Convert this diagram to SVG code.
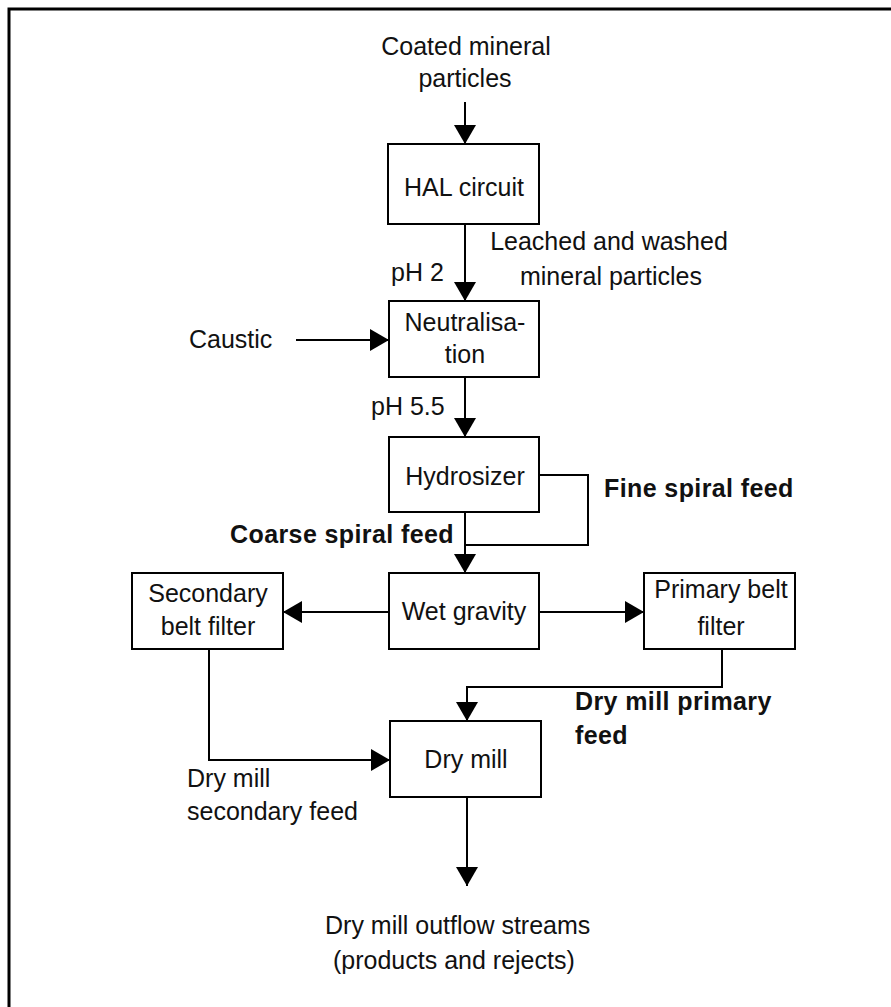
<svg xmlns="http://www.w3.org/2000/svg" width="891" height="1007" viewBox="0 0 891 1007">
  <style>
    .frame { fill: none; stroke: #000; stroke-width: 3; }
    .box { fill: #fff; stroke: #000; stroke-width: 2; }
    .flow { fill: none; stroke: #000; stroke-width: 2; }
    .arrow { marker-end: url(#head); }
    text { font-family: "Liberation Sans", Arial, sans-serif; font-size: 25px; fill: #111; }
    .c { text-anchor: middle; }
    .e { text-anchor: end; }
    .b { font-weight: bold; letter-spacing: 0.4px; }
  </style>
  <defs>
    <marker id="head" viewBox="0 0 19 22" refX="19" refY="11" markerWidth="19" markerHeight="22" markerUnits="userSpaceOnUse" orient="auto">
      <path d="M0,0 L19,11 L0,22 Z" fill="#000"/>
    </marker>
  </defs>

  <rect width="891" height="1007" fill="#fff"/>
  <path class="frame" d="M9,1007 V9 H891"/>

  <!-- stream connectors -->
  <g id="connectors">
    <path class="flow arrow" d="M465,102 V144"/>
    <path class="flow arrow" d="M465,224 V301"/>
    <path class="flow arrow" d="M296,340 H389"/>
    <path class="flow arrow" d="M465,377 V437"/>
    <path class="flow arrow" d="M465,512 V573"/>
    <path class="flow" d="M539,475 H588 V545 H465"/>
    <path class="flow arrow" d="M389,612 H283"/>
    <path class="flow arrow" d="M539,612 H644"/>
    <path class="flow arrow" d="M722,649 V687 H467 V721"/>
    <path class="flow arrow" d="M209,649 V760 H390"/>
    <path class="flow arrow" d="M467,797 V886"/>
  </g>

  <!-- process units -->
  <g id="hal-circuit">
    <rect class="box" x="388" y="144" width="151" height="80"/>
    <text class="c" x="464" y="196">HAL circuit</text>
  </g>
  <g id="neutralisation">
    <rect class="box" x="389" y="301" width="150" height="76"/>
    <text class="c" x="465" y="331">Neutralisa-</text>
    <text class="c" x="465" y="363">tion</text>
  </g>
  <g id="hydrosizer">
    <rect class="box" x="389" y="437" width="150" height="75"/>
    <text class="c" x="465" y="485">Hydrosizer</text>
  </g>
  <g id="wet-gravity">
    <rect class="box" x="389" y="573" width="150" height="76"/>
    <text class="c" x="464" y="620">Wet gravity</text>
  </g>
  <g id="secondary-belt-filter">
    <rect class="box" x="132" y="573" width="151" height="76"/>
    <text class="c" x="208" y="602">Secondary</text>
    <text class="c" x="208" y="635">belt filter</text>
  </g>
  <g id="primary-belt-filter">
    <rect class="box" x="644" y="573" width="151" height="76"/>
    <text class="c" x="721" y="598">Primary belt</text>
    <text class="c" x="721" y="635">filter</text>
  </g>
  <g id="dry-mill">
    <rect class="box" x="390" y="721" width="151" height="76"/>
    <text class="c" x="466" y="768">Dry mill</text>
  </g>

  <!-- stream labels -->
  <g id="labels">
    <text class="c" x="466" y="55">Coated mineral</text>
    <text class="c" x="465" y="87">particles</text>
    <text class="c" x="609" y="250">Leached and washed</text>
    <text class="c" x="611" y="285">mineral particles</text>
    <text x="391" y="281">pH 2</text>
    <text x="189" y="348">Caustic</text>
    <text x="371" y="415">pH 5.5</text>
    <text class="b" x="604" y="497">Fine spiral feed</text>
    <text class="b e" x="454" y="543">Coarse spiral feed</text>
    <text class="b" x="575" y="710">Dry mill primary</text>
    <text class="b" x="575" y="744">feed</text>
    <text x="187" y="787">Dry mill</text>
    <text x="187" y="820">secondary feed</text>
    <text x="325" y="934">Dry mill outflow streams</text>
    <text x="333" y="969">(products and rejects)</text>
  </g>
</svg>
